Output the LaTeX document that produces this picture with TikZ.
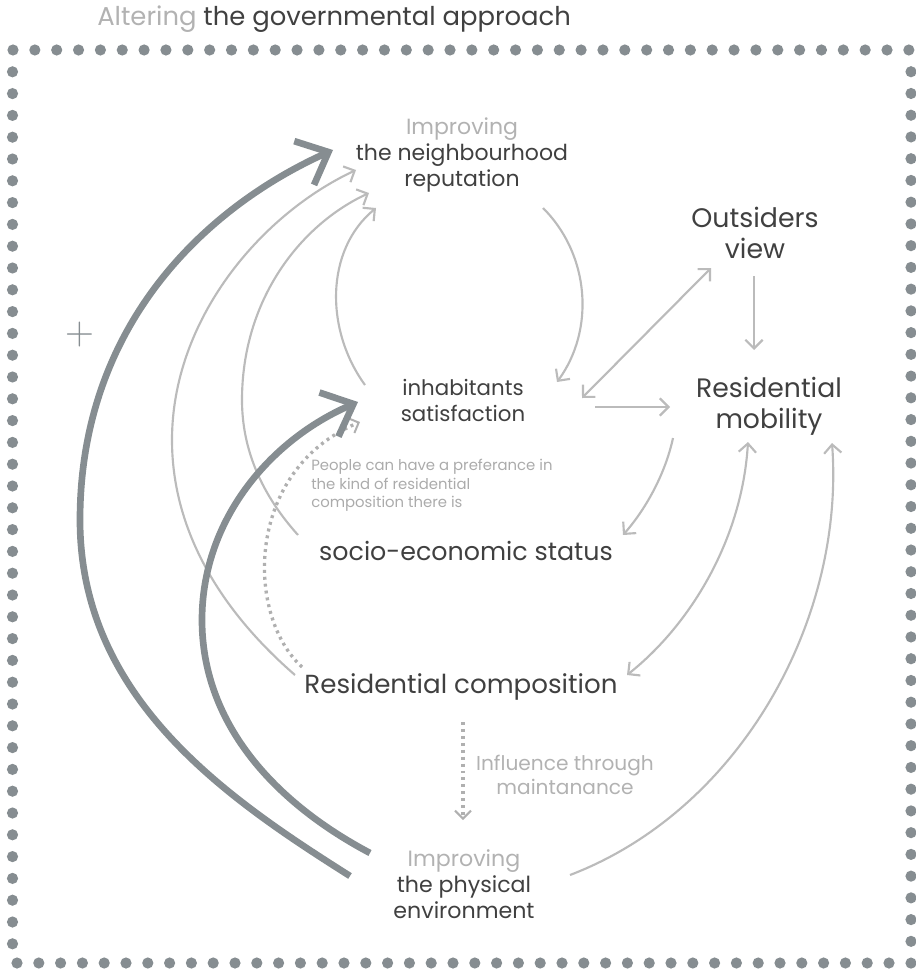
\documentclass[tikz,border=0pt]{standalone}
\usepackage{fontspec}
\setmainfont{Poppins}
\newfontfamily\lmfont{Latin Modern Roman}
\usetikzlibrary{arrows.meta}
\definecolor{dark}{HTML}{404040}
\definecolor{lighttxt}{HTML}{B2B2B2}
\definecolor{notetxt}{HTML}{ABABAB}
\definecolor{lightln}{HTML}{BBBBBB}
\definecolor{dotln}{HTML}{B0B0B0}
\definecolor{slate}{HTML}{868D91}
\begin{document}
\begin{tikzpicture}[x=0.75pt,y=-0.75pt,
  lbl/.style={text=dark, align=center, inner sep=0pt},
  lightarr/.style={draw=lightln, line width=1.6pt, -{Straight Barb[length=6.5pt,width=13pt]}},
  heavyarr/.style={draw=slate, line width=5pt, -{Straight Barb[length=20pt,width=36pt]}},
  dotline/.style={draw=dotln, line width=2.5pt, dash pattern=on 2.2pt off 3pt},
  fdot/.style={fill=slate}]
\useasboundingbox (0,0) rectangle (916,970);
% frame of dots
\foreach \i in {0,...,41} \fill[fdot] (13+\i*21.85,50) circle[radius=4.2pt];
\foreach \j in {1,...,42} \fill[fdot] (911,50+\j*21.74) circle[radius=4.2pt];
\foreach \i in {0,...,40} \fill[fdot] (17+\i*21.8,963) circle[radius=4.2pt];
\foreach \j in {1,...,41} \fill[fdot] (12.5,50+\j*21.8) circle[radius=4.2pt];
% title
\node[lbl, font=\fontsize{19.4}{22}\selectfont, anchor=base west] (title) at (97,26) {\textcolor{lighttxt}{Altering} the governmental approach};
% nodes
\node[lbl, font=\fontsize{16.5}{19.5}\selectfont] (rep) at (462,155) {\textcolor{lighttxt}{Improving}\\the neighbourhood\\reputation};
\node[lbl, font=\fontsize{20.1}{23.25}\selectfont] (out) at (755,233) {Outsiders\\view};
\node[lbl, font=\fontsize{20}{23.25}\selectfont] (mob) at (769,406) {Residential\\mobility};
\node[lbl, font=\fontsize{16}{19.5}\selectfont] (sat) at (463,400) {inhabitants\\satisfaction};
\node[lbl, text=notetxt, align=left, anchor=north west, font=\fontsize{11.15}{14}\selectfont] (note) at (311,459) {People can have a preferance in\\the kind of residential\\composition there is};
\node[lbl, font=\fontsize{19}{23}\selectfont] (ses) at (466,551) {socio-economic status};
\node[lbl, font=\fontsize{19.6}{23}\selectfont] (comp) at (461,687) {Residential composition};
\node[lbl, text=lighttxt, font=\fontsize{15.1}{18}\selectfont] (infl) at (565,775) {Influence through\\maintanance};
\node[lbl, font=\fontsize{16.6}{19.5}\selectfont] (phys) at (464,884) {\textcolor{lighttxt}{Improving}\\the physical\\environment};
\node[text=slate, inner sep=0pt, font=\lmfont\fontsize{30}{30}\selectfont] (plus) at (80,335) {+};
% coordinates
\coordinate (t1s) at (350,876); \coordinate (t1m) at (80,520); \coordinate (t1e) at (333,150);
\coordinate (t2s) at (370,853); \coordinate (t2m) at (202,620); \coordinate (t2e) at (358,402);
\coordinate (l1s) at (295,675); \coordinate (l1m) at (172,440); \coordinate (l1e) at (356,170);
\coordinate (l2s) at (298,535); \coordinate (l2m) at (242,400); \coordinate (l2e) at (369,193);
\coordinate (l3s) at (365,385); \coordinate (l3e) at (376,208);
\coordinate (r1s) at (543,208); \coordinate (r1e) at (557,382);
\coordinate (d1a) at (582,398); \coordinate (d1b) at (711,268);
\coordinate (v1s) at (754,276); \coordinate (v1e) at (754,350);
\coordinate (h1s) at (595,407); \coordinate (h1e) at (670,407);
\coordinate (c1s) at (673,438); \coordinate (c1e) at (623,535);
\coordinate (d2a) at (748,442); \coordinate (d2b) at (627,675);
\coordinate (e1s) at (570,875); \coordinate (e1e) at (832,443);
\coordinate (p1s) at (302,667); \coordinate (p1e) at (360,422);
\coordinate (p2s) at (463,722); \coordinate (p2e) at (463,820);
% light arrows
\draw[lightarr] (l1s) .. controls (220,610) and (172,530) .. (l1m) .. controls (172,320) and (260,215) .. (l1e);
\draw[lightarr] (l2s) .. controls (262,495) and (242,450) .. (l2m) .. controls (242,300) and (300,225) .. (l2e);
\draw[lightarr] (l3s) .. controls (325,330) and (325,250) .. (l3e);
\draw[lightarr] (r1s) .. controls (590,255) and (595,330) .. (r1e);
\draw[lightarr, {Straight Barb[length=6.5pt,width=13pt]}-{Straight Barb[length=6.5pt,width=13pt]}] (d1a) -- (d1b);
\draw[lightarr] (v1s) -- (v1e);
\draw[lightarr] (h1s) -- (h1e);
\draw[lightarr] (c1s) .. controls (665,475) and (645,510) .. (c1e);
\draw[lightarr, {Straight Barb[length=6.5pt,width=13pt]}-{Straight Barb[length=6.5pt,width=13pt]}] (d2a) .. controls (742,540) and (690,625) .. (d2b);
\draw[lightarr] (e1s) .. controls (740,810) and (845,620) .. (e1e);
% dotted arrows
\draw[dotline, -{Straight Barb[length=6pt,width=12pt,line width=1.5pt]}] (p1s) .. controls (245,615) and (245,470) .. (p1e);
\draw[dotline, -{Straight Barb[length=6pt,width=12pt,line width=1.5pt]}] (p2s) -- (p2e);
% heavy arrows
\draw[heavyarr] (t1s) .. controls (230,800) and (80,700) .. (t1m) .. controls (80,330) and (200,210) .. (t1e);
\draw[heavyarr] (t2s) .. controls (270,800) and (202,720) .. (t2m) .. controls (202,520) and (270,440) .. (t2e);
\end{tikzpicture}
\end{document}
